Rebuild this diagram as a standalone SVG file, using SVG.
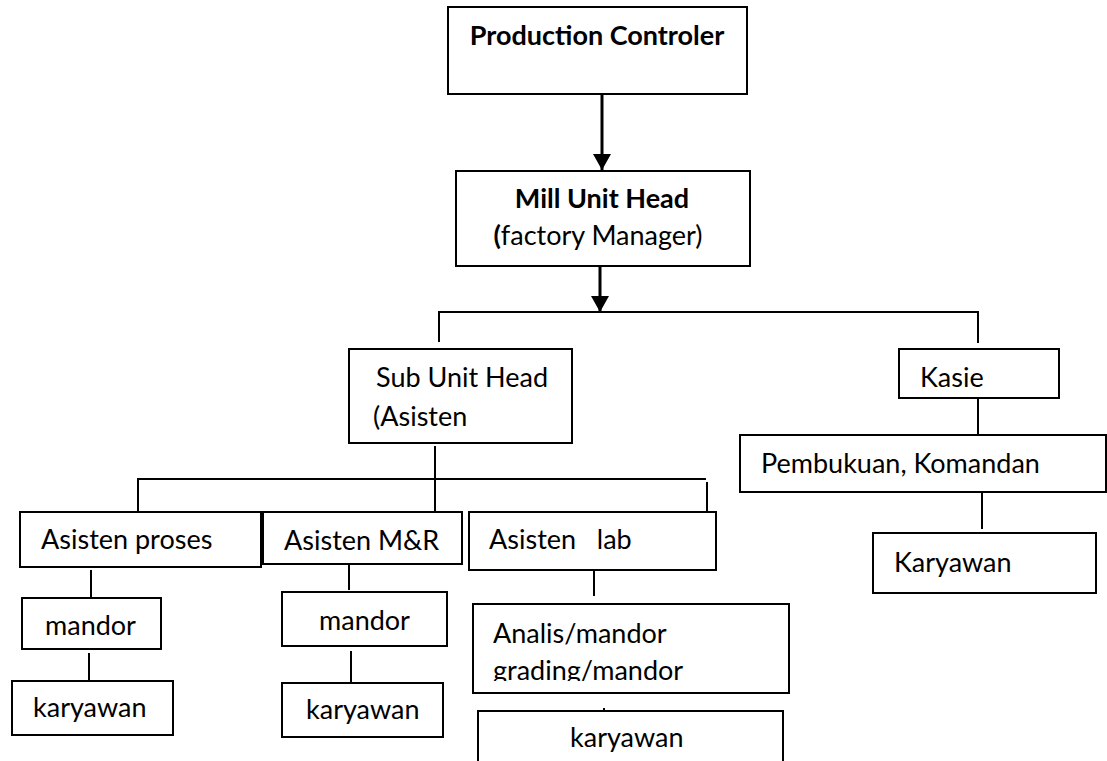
<svg xmlns="http://www.w3.org/2000/svg" width="1107" height="761" viewBox="0 0 1107 761">
<style>
  .box { fill: #ffffff; stroke: #000000; stroke-width: 2; }
  .t { font-family: Lato, "Open Sans", sans-serif; font-size: 27px; fill: #000000; }
  .b { font-weight: bold; }
  .ln { stroke: #000000; stroke-width: 2; fill: none; }
  .arr { stroke: #000000; stroke-width: 3; fill: none; }
</style>
<defs>
  <marker id="ah" markerUnits="userSpaceOnUse" markerWidth="20" markerHeight="18" refX="16" refY="9" orient="auto">
    <path d="M0,0 L16,9 L0,18 Z" fill="#000000"/>
  </marker>
  <clipPath id="clipAnalis">
    <rect x="473" y="604" width="316" height="77"/>
  </clipPath>
</defs>
<rect width="1107" height="761" fill="#ffffff"/>

<g id="connectors">
  <line class="arr" x1="602" y1="95" x2="602" y2="170" marker-end="url(#ah)"/>
  <line class="arr" x1="600" y1="267" x2="600" y2="312" marker-end="url(#ah)"/>
  <polyline class="ln" points="439,342 439,312 978,312 978,343"/>
  <line class="ln" x1="978" y1="398" x2="978" y2="435"/>
  <line class="ln" x1="982" y1="492" x2="982" y2="529"/>
  <line class="ln" x1="435" y1="446" x2="435" y2="511"/>
  <polyline class="ln" points="138,513 138,479 706,479"/>
  <line class="ln" x1="707" y1="482" x2="707" y2="511"/>
  <line class="ln" x1="91" y1="570" x2="91" y2="598"/>
  <line class="ln" x1="89" y1="653" x2="89" y2="680"/>
  <line class="ln" x1="349" y1="565" x2="349" y2="590"/>
  <line class="ln" x1="351" y1="651" x2="351" y2="682"/>
  <line class="ln" x1="594" y1="563" x2="594" y2="596"/>
  <line class="ln" x1="604" y1="708" x2="604" y2="711"/>
</g>

<g id="production-controler">
  <rect class="box" x="448" y="7" width="299" height="87"/>
  <text class="t b" x="597" y="45" text-anchor="middle">Production Controler</text>
</g>

<g id="mill-unit-head">
  <rect class="box" x="456" y="171" width="294" height="95"/>
  <text class="t b" x="602" y="208" text-anchor="middle">Mill Unit Head</text>
  <text class="t" x="598" y="245" text-anchor="middle"><tspan class="b">(</tspan>factory Manager)</text>
</g>

<g id="sub-unit-head">
  <rect class="box" x="349" y="349" width="223" height="94"/>
  <text class="t" x="376" y="387">Sub Unit Head</text>
  <text class="t" x="373" y="426">(Asisten</text>
</g>

<g id="kasie">
  <rect class="box" x="899" y="349" width="160" height="49"/>
  <text class="t" x="920" y="387">Kasie</text>
</g>

<g id="pembukuan">
  <rect class="box" x="740" y="435" width="366" height="57"/>
  <text class="t" x="761" y="473">Pembukuan, Komandan</text>
</g>

<g id="karyawan-kasie">
  <rect class="box" x="873" y="533" width="223" height="60"/>
  <text class="t" x="894" y="572">Karyawan</text>
</g>

<g id="asisten-proses">
  <rect class="box" x="20" y="512" width="241" height="55"/>
  <text class="t" x="41" y="549">Asisten proses</text>
</g>

<g id="asisten-mr">
  <rect class="box" x="263" y="512" width="199" height="52"/>
  <text class="t" x="284" y="550">Asisten M&amp;R</text>
</g>

<g id="asisten-lab">
  <rect class="box" x="469" y="512" width="247" height="58"/>
  <text class="t" x="489" y="549" xml:space="preserve">Asisten   lab</text>
</g>

<g id="mandor-proses">
  <rect class="box" x="22" y="598" width="139" height="51"/>
  <text class="t" x="45" y="635">mandor</text>
</g>

<g id="karyawan-proses">
  <rect class="box" x="12" y="681" width="161" height="54"/>
  <text class="t" x="33" y="717">karyawan</text>
</g>

<g id="mandor-mr">
  <rect class="box" x="282" y="592" width="165" height="54"/>
  <text class="t" x="319" y="630">mandor</text>
</g>

<g id="karyawan-mr">
  <rect class="box" x="282" y="683" width="161" height="54"/>
  <text class="t" x="306" y="719">karyawan</text>
</g>

<g id="analis-mandor">
  <rect class="box" x="473" y="604" width="316" height="89"/>
  <g clip-path="url(#clipAnalis)">
    <text class="t" x="493" y="643">Analis/mandor</text>
    <text class="t" x="493" y="680">grading/mandor</text>
  </g>
</g>

<g id="karyawan-lab">
  <path class="ln" d="M478,763 L478,711 L783,711 L783,763"/>
  <text class="t" x="570" y="747">karyawan</text>
</g>
</svg>
